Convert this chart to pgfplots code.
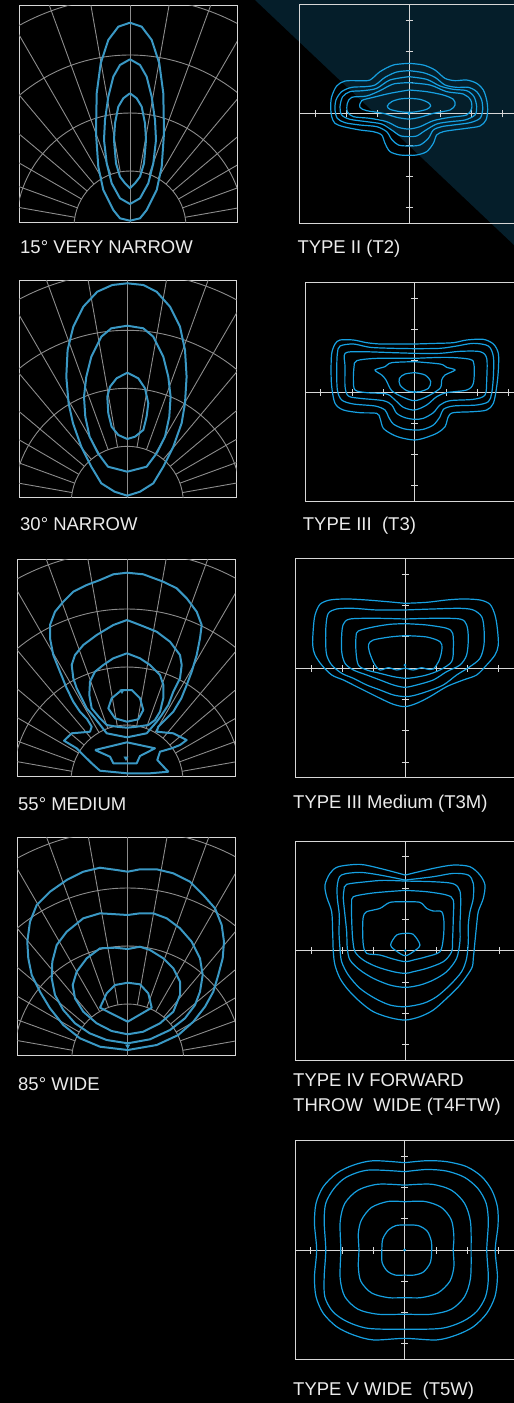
\documentclass[border=0pt]{standalone}
\usepackage{fontspec}
\setmainfont{Liberation Sans}
\usepackage{pgfplots}
\pgfplotsset{compat=1.18}

\definecolor{bandc}{RGB}{5,30,42}
\definecolor{gridc}{RGB}{140,140,140}
\definecolor{framec}{RGB}{215,215,215}
\definecolor{polc}{RGB}{58,152,196}
\definecolor{isoc}{RGB}{22,160,225}
\definecolor{txtc}{RGB}{235,235,235}

\newcommand{\lbl}{\fontsize{18.5bp}{22bp}\selectfont}

\pgfplotsset{
  polar panel/.style={scale only axis, anchor=north west, ticks=none,
    axis line style={framec, line width=1bp}},
  iso panel/.style={scale only axis, anchor=north west, ticks=none,
    xmin=-3.5, xmax=3.5, ymin=-3.5, ymax=3.5, width=219.3bp, height=219.3bp,
    axis line style={framec, line width=1bp}},
  beam/.style={polc, line width=2bp, line join=round, mark=none},
  iso/.style={isoc, line width=1.2bp, smooth, mark=none},
}

% polar grid: arcs about a centre 5 units under the box, spokes every 10 deg
\newcommand{\polargrid}{%
  \draw[gridc, line width=0.9bp] (axis cs:0,0) circle[radius=56bp]
    (axis cs:0,0) circle[radius=114bp] (axis cs:0,0) circle[radius=172bp]
    (axis cs:0,0) circle[radius=230bp];
  \pgfplotsinvokeforeach{10,20,30,40,50,60,70,80,100,110,120,130,140,150,160,170}{%
    \draw[gridc, line width=0.9bp] (axis cs:0,0) ++(##1:56bp) -- ++(##1:300bp);}
  \draw[gridc, line width=0.9bp] (axis cs:0,-10) -- (axis cs:0,260);
}
% cross hair with small ticks
\newcommand{\isogrid}{%
  \draw[framec, line width=1bp] (axis cs:-4,0) -- (axis cs:4,0)
    (axis cs:0,-4) -- (axis cs:0,4);
  \pgfplotsinvokeforeach{-3,-2,-1,1,2,3}{%
    \draw[framec, line width=1bp] ([yshift=-3.5bp]axis cs:##1,0) -- ([yshift=3.5bp]axis cs:##1,0)
      ([xshift=-3.5bp]axis cs:0,##1) -- ([xshift=3.5bp]axis cs:0,##1);}
}

\begin{document}
\begin{tikzpicture}
\path[use as bounding box] (0,0) rectangle (514bp,-1403bp);
\clip (0,0) rectangle (514bp,-1403bp);
\fill[black] (0,0) rectangle (514bp,-1403bp);
\fill[bandc] (255bp,0) -- (514bp,0) -- (514bp,-245bp) -- cycle;

% ---------- 15 deg very narrow
\begin{axis}[polar panel, at={(19bp,-5bp)}, width=218bp, height=217bp,
  xmin=-111, xmax=107, ymin=5, ymax=222]
\polargrid
\addplot[beam] coordinates {(0,204.3)(11.7,200.3)(21.7,187)(29.3,163.7)(33.3,133.7)(34,93.7)(31.7,60.3)(26.7,37)(16.7,17)(10,8.7)(0,6.3)(-10,8.7)(-16.7,17)(-26.7,37)(-31.7,60.3)(-34,93.7)(-33.3,133.7)(-29.3,163.7)(-21.7,187)(-11.7,200.3)(0,204.3)};
\addplot[beam] coordinates {(0,167.7)(10,162)(16.7,150.3)(21.7,130.3)(25,107)(26,87)(23.3,63.7)(18.3,43.7)(10,28.7)(0,23)(-10,28.7)(-18.3,43.7)(-23.3,63.7)(-26,87)(-25,107)(-21.7,130.3)(-16.7,150.3)(-10,162)(0,167.7)};
\addplot[beam] coordinates {(0,133.7)(6.7,128.7)(11.7,120.3)(15,103.7)(16,87)(14,63.7)(10,50.3)(5,43.7)(0,38.7)(-5,43.7)(-10,50.3)(-14,63.7)(-16,87)(-15,103.7)(-11.7,120.3)(-6.7,128.7)(0,133.7)};
\end{axis}

% ---------- 30 deg narrow
\begin{axis}[polar panel, at={(19bp,-280bp)}, width=217.7bp, height=217.3bp,
  xmin=-108.3, xmax=109.4, ymin=5, ymax=222.3]
\polargrid
\addplot[beam] coordinates {(0,219)(16,217.3)(29.3,210.6)(42.7,195.6)(52.7,175.6)(57.7,152.3)(59.3,125.6)(57.7,99)(54.3,79)(46,55.6)(36,35.6)(26,19)(12.7,10.6)(0,6.6)(-12.7,10.6)(-26,19)(-36,35.6)(-46,55.6)(-54.3,79)(-58.7,99)(-61,125.6)(-59.7,152.3)(-54,175.6)(-44,195.6)(-30,210.6)(-15,217.3)(0,219)};
\addplot[beam] coordinates {(0,176.6)(16,174)(26,165.6)(36,145.6)(41,125.6)(43.3,105.6)(42,85.6)(37.7,65.6)(29.3,49)(19.3,35.6)(0,30.6)(-19.3,35.6)(-29.3,49)(-37.7,65.6)(-42,85.6)(-43.3,105.6)(-41,125.6)(-36,145.6)(-26,165.6)(-16,174)(0,176.6)};
\addplot[beam] coordinates {(0,129.6)(11,124)(17.7,114)(21,99)(19.3,85.6)(16,72.3)(7.7,65.6)(0,63.3)(-9,67.3)(-15.7,75.6)(-19,89)(-20,105.6)(-17.3,115.6)(-10.7,124)(0,129.6)};
\end{axis}

% ---------- 55 deg medium
\begin{axis}[polar panel, at={(17.3bp,-559bp)}, width=217.7bp, height=217bp,
  xmin=-109.7, xmax=108, ymin=5, ymax=222]
\polargrid
\addplot[beam] coordinates {(0,208.3)(16.3,206.7)(36.3,199.3)(49.7,192.7)(59.7,182.7)(69.7,169.3)(74.7,156)(73,142.7)(69.7,126)(64.7,109.3)(59.7,96)(54.3,82.7)(46.3,69.3)(36.3,59.3)(31.3,54.3)(29.7,49.3)(46.3,47.7)(59.7,41)(53,36)(44.7,32.7)(33,29.3)(30.3,21)(41.3,9.3)(23,7.7)(0,7.7)(-27,10.3)(-35.3,17.7)(-43.7,26)(-50.3,32.7)(-63,40.3)(-55.3,47.7)(-37,49.3)(-35.3,54.3)(-40,62)(-47,69.3)(-53.7,79.3)(-60.3,92.7)(-67,109.3)(-73.7,126)(-77,142.7)(-77,156)(-72,169.3)(-63.7,179.3)(-53.7,189.3)(-40.3,196)(-27,201)(-13.7,206.7)(0,208.3)};
\addplot[beam] coordinates {(0,161)(13,156)(29.7,149.3)(43,139.3)(53,126)(54.7,116)(53,102.7)(46.3,89.3)(41.3,76)(34.7,66)(29.7,59.3)(19.7,47.7)(0,43.7)(-20.3,47.7)(-32,62.7)(-40.3,72.7)(-45.3,82.7)(-50.3,92.7)(-53.7,102.7)(-55.3,116)(-52,126)(-43.7,136)(-30.3,146)(-13.7,156)(0,161)};
\addplot[beam] coordinates {(0,127.7)(13,122.7)(23,116)(33,106)(36.3,96)(36.3,82.7)(33,69.3)(28,61)(21.3,56)(9.7,54.3)(0,53.3)(-10.3,54.3)(-20.3,56)(-27,62.7)(-35.3,72.7)(-37.7,86)(-37,99.3)(-32,109.3)(-23.7,116)(-13.7,122.7)(0,127.7)};
\addplot[beam] coordinates {(-5.3,91)(4.7,91)(13,82.7)(16.3,71)(11.3,61.7)(0,59.3)(-12,62.7)(-18.7,72.7)(-15.3,82.7)(-5.3,91)};
\addplot[beam] coordinates {(-32,31)(0,38.7)(28,32.7)(13,25)(9.7,17.7)(-13.7,17.7)(-17,24.3)(-32,31)};
\addplot[polc, only marks, mark=triangle*, mark size=2.5bp, mark options={rotate=180}] coordinates {(-1,23)(-5,90)};
\end{axis}

% ---------- 85 deg wide
\begin{axis}[polar panel, at={(17.3bp,-837.7bp)}, width=217.7bp, height=217.3bp,
  xmin=-110.4, xmax=107.3, ymin=5, ymax=222.3]
\polargrid
\addplot[beam] coordinates {(0,188.3)(12.3,190.7)(29,190.7)(45.6,186.7)(62.3,178.3)(75.6,165)(87.3,151.7)(94,135)(96.3,118.3)(95,101.7)(90.6,85)(85.6,68.3)(77.3,53.3)(65.6,38.3)(50.6,25)(29,15)(0,10)(-27.7,13.3)(-47.7,21.7)(-64.4,35)(-77.7,51.7)(-87.7,68.3)(-96,85)(-99.4,101.7)(-100.4,118.3)(-97.7,138.3)(-91,155)(-77.7,168.3)(-61,180)(-44.4,188.3)(-27.7,192.3)(-11,190)(0,188.3)};
\addplot[beam] coordinates {(0,145)(12.3,146.7)(25.6,146.7)(39,141.7)(52.3,131.7)(64,118.3)(72.3,101.7)(75,85)(72.3,68.3)(67.3,55)(57.3,41.7)(42.3,30)(22.3,20.7)(0,16.7)(-21,20)(-38,26.7)(-52.7,36.7)(-64.4,50)(-72.7,65)(-76,81.7)(-75.4,98.3)(-71,115)(-61,128.3)(-44.4,141.7)(-27.7,146.7)(-11,145.7)(0,145)};
\addplot[beam] coordinates {(0,111)(12.3,113.3)(22.3,110)(35.6,101.7)(45.6,91.7)(52.3,78.3)(52.3,65)(45.6,48.3)(32.3,36.7)(15.6,28.3)(0,25.7)(-16,29)(-31,36.7)(-44.4,48.3)(-52.7,61.7)(-55,75)(-51,88.3)(-41,101.7)(-27.7,111.7)(-12.7,112.3)(0,111)};
\addplot[beam] coordinates {(0,77.3)(12.3,75.7)(20.6,66.7)(24,52.3)(0,38.3)(-27.7,52.3)(-21,66.7)(-12.7,75)(0,77.3)};
\addplot[polc, only marks, mark=triangle*, mark size=2.5bp, mark options={rotate=180}] coordinates {(0,14)};
\end{axis}

% ---------- Type II
\begin{axis}[iso panel, at={(299.35bp,-4.35bp)}]
\isogrid
\addplot[iso] coordinates {(0,1.617)(0.457,1.564)(0.830,1.404)(1.149,1.138)(1.468,1.064)(1.840,1.085)(2.160,0.979)(2.372,0.766)(2.479,0.447)(2.511,0.128)(2.457,-0.191)(2.266,-0.383)(1.840,-0.457)(1.415,-0.511)(1.096,-0.564)(0.883,-0.670)(0.777,-0.936)(0.564,-1.202)(0.245,-1.309)(0,-1.319)(-0.287,-1.309)(-0.606,-1.202)(-0.766,-0.936)(-0.872,-0.670)(-1.138,-0.564)(-1.564,-0.511)(-2.096,-0.404)(-2.362,-0.298)(-2.468,-0.085)(-2.500,0.234)(-2.468,0.553)(-2.309,0.894)(-2.043,1.053)(-1.564,1.064)(-1.245,1.085)(-0.926,1.351)(-0.500,1.564)(0,1.617)};
\addplot[iso] coordinates {(0,1.383)(0.457,1.319)(0.830,1.170)(1.149,0.926)(1.521,0.851)(1.894,0.851)(2.160,0.713)(2.319,0.447)(2.351,0.128)(2.266,-0.138)(1.947,-0.277)(1.415,-0.351)(1.043,-0.404)(0.777,-0.511)(0.617,-0.777)(0.351,-0.989)(0,-1.021)(-0.340,-0.989)(-0.553,-0.809)(-0.713,-0.564)(-1.032,-0.404)(-1.564,-0.351)(-2.043,-0.277)(-2.287,-0.138)(-2.362,0.128)(-2.330,0.447)(-2.149,0.713)(-1.830,0.851)(-1.404,0.872)(-1.085,0.926)(-0.766,1.170)(-0.394,1.340)(0,1.383)};
\addplot[iso] coordinates {(0,1.191)(0.564,1.106)(0.989,0.894)(1.415,0.787)(1.840,0.745)(2.074,0.553)(2.160,0.234)(2.106,-0.032)(1.787,-0.191)(1.309,-0.245)(0.883,-0.319)(0.511,-0.532)(0.245,-0.702)(0,-0.723)(-0.287,-0.691)(-0.553,-0.511)(-0.872,-0.319)(-1.351,-0.245)(-1.883,-0.170)(-2.149,-0.032)(-2.202,0.234)(-2.117,0.553)(-1.883,0.713)(-1.457,0.745)(-1.032,0.819)(-0.606,1.085)(0,1.191)};
\addplot[iso] coordinates {(0,1.0)(0.670,0.926)(1.202,0.713)(1.734,0.638)(1.968,0.447)(2.0,0.181)(1.840,-0.032)(1.309,-0.106)(0.777,-0.213)(0.351,-0.404)(0,-0.479)(-0.340,-0.426)(-0.713,-0.245)(-1.245,-0.138)(-1.777,-0.085)(-1.968,0.074)(-1.968,0.340)(-1.830,0.532)(-1.351,0.574)(-0.926,0.745)(-0.500,0.957)(0,1.0)};
\addplot[iso] coordinates {(0,0.766)(0.564,0.713)(1.096,0.606)(1.415,0.468)(1.468,0.287)(1.309,0.128)(0.777,0.021)(0.351,-0.106)(0,-0.160)(-0.394,-0.106)(-0.819,0.021)(-1.351,0.106)(-1.564,0.213)(-1.511,0.426)(-1.138,0.532)(-0.606,0.660)(0,0.766)};
\addplot[iso] coordinates {(0,0.5)(0.351,0.468)(0.617,0.362)(0.691,0.255)(0.564,0.149)(0.245,0.074)(0,0.053)(-0.287,0.074)(-0.606,0.149)(-0.691,0.255)(-0.553,0.394)(-0.287,0.479)(0,0.5)};
\addplot[isoc, only marks, mark=*, mark size=1.2bp] coordinates {(0,0)};
\end{axis}

% ---------- Type III
\begin{axis}[iso panel, at={(305.05bp,-282.35bp)}]
\isogrid
\addplot[iso] coordinates {(0,1.532)(0.702,1.553)(1.234,1.574)(1.660,1.660)(2.191,1.681)(2.511,1.532)(2.670,1.234)(2.670,0.702)(2.617,0.170)(2.511,-0.362)(2.298,-0.574)(1.872,-0.628)(1.234,-0.660)(1.074,-0.787)(0.968,-1.106)(0.702,-1.319)(0.277,-1.479)(0,-1.532)(-0.362,-1.479)(-0.681,-1.372)(-1.0,-1.160)(-1.106,-0.840)(-1.213,-0.681)(-1.745,-0.660)(-2.277,-0.574)(-2.543,-0.362)(-2.649,0.170)(-2.670,0.702)(-2.649,1.234)(-2.543,1.532)(-2.383,1.660)(-1.957,1.660)(-1.532,1.574)(-1.106,1.532)(-0.681,1.532)(0,1.532)};
\addplot[iso] coordinates {(0,1.383)(0.809,1.394)(1.340,1.468)(1.872,1.553)(2.351,1.468)(2.511,1.128)(2.511,0.489)(2.457,-0.043)(2.351,-0.309)(1.979,-0.415)(1.234,-0.447)(0.915,-0.553)(0.809,-0.787)(0.596,-1.053)(0.277,-1.191)(0,-1.213)(-0.362,-1.170)(-0.681,-1.021)(-0.840,-0.787)(-0.947,-0.574)(-1.266,-0.447)(-1.957,-0.383)(-2.330,-0.255)(-2.468,0.064)(-2.489,0.702)(-2.468,1.234)(-2.383,1.468)(-1.957,1.532)(-1.426,1.426)(-0.681,1.394)(0,1.383)};
\addplot[iso] coordinates {(0,1.234)(0.809,1.234)(1.447,1.298)(2.085,1.287)(2.298,1.074)(2.298,0.383)(2.245,-0.096)(1.872,-0.234)(1.128,-0.277)(0.809,-0.415)(0.596,-0.660)(0.277,-0.840)(0,-0.872)(-0.309,-0.819)(-0.574,-0.681)(-0.734,-0.415)(-1.0,-0.277)(-1.745,-0.202)(-2.117,-0.128)(-2.223,0.170)(-2.223,0.809)(-2.223,1.234)(-1.745,1.287)(-0.681,1.255)(0,1.234)};
\addplot[iso] coordinates {(0,1.074)(1.021,1.106)(1.766,1.043)(1.894,0.862)(1.872,0.277)(1.660,0.064)(1.021,-0.021)(0.702,-0.149)(0.383,-0.415)(0,-0.574)(-0.362,-0.489)(-0.628,-0.255)(-0.894,-0.064)(-1.532,-0.021)(-1.904,0.064)(-1.957,0.383)(-1.936,0.809)(-1.851,1.0)(-1.213,1.074)(0,1.074)};
\addplot[iso] coordinates {(0,0.968)(0.809,0.894)(1.021,0.787)(1.287,0.702)(0.968,0.543)(0.862,0.383)(0.809,0.117)(0.383,-0.149)(0,-0.277)(-0.362,-0.170)(-0.734,0.043)(-0.915,0.383)(-1.053,0.543)(-1.266,0.702)(-0.947,0.809)(-0.734,0.936)(0,0.968)};
\addplot[iso] coordinates {(0,0.617)(0.330,0.543)(0.511,0.330)(0.436,0.117)(0.170,0.011)(0,0)(-0.255,0.043)(-0.468,0.223)(-0.489,0.436)(-0.309,0.574)(0,0.617)};
\addplot[isoc, only marks, mark=*, mark size=1.2bp] coordinates {(0,0)};
\end{axis}

% ---------- Type III medium
\begin{axis}[iso panel, at={(295.35bp,-558.65bp)}]
\isogrid
\addplot[iso] coordinates {(0,2.074)(0.691,2.106)(1.330,2.181)(1.862,2.213)(2.394,2.181)(2.713,2.043)(2.872,1.702)(2.947,1.277)(2.979,0.745)(2.872,0.426)(2.606,0.106)(2.287,-0.213)(1.862,-0.372)(1.330,-0.585)(0.798,-0.904)(0.372,-1.117)(0,-1.223)(-0.372,-1.149)(-0.798,-0.957)(-1.223,-0.745)(-1.649,-0.532)(-1.968,-0.372)(-2.340,-0.213)(-2.660,0.106)(-2.872,0.426)(-2.947,0.745)(-2.926,1.277)(-2.872,1.702)(-2.713,2.043)(-2.394,2.181)(-1.862,2.213)(-1.223,2.181)(-0.585,2.128)(0,2.074)};
\addplot[iso] coordinates {(0,1.862)(0.904,1.894)(1.755,1.915)(2.181,1.862)(2.447,1.649)(2.521,1.277)(2.521,0.745)(2.394,0.319)(2.074,0.053)(1.649,-0.213)(1.223,-0.532)(0.691,-0.745)(0.266,-0.872)(0,-0.904)(-0.372,-0.851)(-0.798,-0.691)(-1.223,-0.532)(-1.649,-0.319)(-2.021,-0.160)(-2.340,0.106)(-2.500,0.426)(-2.532,0.851)(-2.521,1.383)(-2.447,1.755)(-2.181,1.894)(-1.649,1.915)(-0.904,1.862)(0,1.862)};
\addplot[iso] coordinates {(0,1.574)(0.904,1.596)(1.755,1.574)(1.968,1.383)(2.021,0.957)(1.968,0.426)(1.755,0.106)(1.330,-0.106)(0.904,-0.372)(0.372,-0.532)(0,-0.606)(-0.372,-0.532)(-0.798,-0.372)(-1.223,-0.213)(-1.649,-0.053)(-1.915,0.160)(-2.021,0.532)(-2.021,1.064)(-1.968,1.404)(-1.755,1.574)(-0.904,1.596)(0,1.574)};
\addplot[iso] coordinates {(0,1.426)(0.691,1.383)(1.330,1.277)(1.521,1.117)(1.543,0.638)(1.489,0.213)(1.117,-0.053)(0.691,-0.213)(0.266,-0.298)(0,-0.319)(-0.372,-0.266)(-0.798,-0.160)(-1.223,-0.053)(-1.489,0.106)(-1.564,0.532)(-1.564,1.011)(-1.489,1.191)(-1.011,1.319)(-0.479,1.404)(0,1.426)};
\addplot[iso] coordinates {(0,1.043)(0.691,1.0)(1.117,0.851)(1.181,0.638)(1.096,0.266)(0.904,-0.021)(0.691,-0.021)(0.532,0.021)(0.266,-0.053)(0,0)(-0.266,-0.053)(-0.532,0.021)(-0.798,-0.053)(-0.989,0.160)(-1.138,0.532)(-1.160,0.766)(-1.011,0.904)(-0.479,1.0)(0,1.043)};
\addplot[isoc, only marks, mark=*, mark size=1.2bp] coordinates {(0,0.1)};
\end{axis}

% ---------- Type IV forward throw wide
\begin{axis}[iso panel, at={(295.65bp,-841.05bp)}]
\isogrid
\addplot[iso] coordinates {(0,2.415)(0.894,2.628)(1.532,2.734)(2.064,2.681)(2.383,2.415)(2.543,2.096)(2.489,1.670)(2.330,1.245)(2.277,0.819)(2.223,0.287)(2.170,-0.245)(2.117,-0.564)(1.745,-1.096)(1.319,-1.521)(0.894,-1.894)(0.468,-2.106)(0,-2.213)(-0.489,-2.138)(-1.021,-1.947)(-1.447,-1.628)(-1.819,-1.255)(-2.085,-0.883)(-2.245,-0.457)(-2.298,-0.032)(-2.319,0.606)(-2.351,1.245)(-2.511,1.723)(-2.564,2.096)(-2.404,2.468)(-2.138,2.681)(-1.447,2.755)(-0.809,2.628)(0,2.415)};
\addplot[iso] coordinates {(0,2.255)(0.894,2.362)(1.532,2.468)(2.011,2.415)(2.170,2.149)(2.170,1.670)(2.064,1.245)(2.011,0.819)(2.011,0.287)(1.957,-0.245)(1.798,-0.670)(1.426,-1.096)(1.0,-1.468)(0.574,-1.681)(0,-1.787)(-0.489,-1.734)(-0.968,-1.521)(-1.447,-1.202)(-1.819,-0.777)(-2.032,-0.351)(-2.085,0.074)(-2.117,0.606)(-2.106,1.138)(-2.170,1.670)(-2.170,2.096)(-2.043,2.415)(-1.457,2.500)(-0.809,2.415)(0,2.255)};
\addplot[iso] coordinates {(0,2.223)(0.894,2.202)(1.532,2.138)(1.745,1.904)(1.766,1.372)(1.745,0.840)(1.745,0.309)(1.638,-0.245)(1.319,-0.670)(0.894,-0.936)(0.468,-1.096)(0,-1.170)(-0.489,-1.096)(-1.021,-0.883)(-1.447,-0.617)(-1.766,-0.298)(-1.851,0.074)(-1.872,0.606)(-1.926,1.138)(-1.979,1.670)(-1.957,1.936)(-1.872,2.117)(-1.234,2.202)(-0.702,2.245)(0,2.223)};
\addplot[iso] coordinates {(0,1.926)(0.681,1.883)(1.319,1.777)(1.532,1.617)(1.532,1.032)(1.511,0.394)(1.479,-0.032)(1.213,-0.351)(0.681,-0.564)(0.255,-0.670)(0,-0.723)(-0.383,-0.670)(-0.915,-0.511)(-1.340,-0.298)(-1.606,-0.032)(-1.681,0.394)(-1.713,1.032)(-1.713,1.511)(-1.660,1.723)(-1.128,1.830)(-0.596,1.883)(0,1.926)};
\addplot[iso] coordinates {(0,1.564)(0.468,1.543)(0.681,1.351)(0.894,1.266)(1.160,1.245)(1.234,0.926)(1.213,0.394)(1.106,-0.032)(0.681,-0.191)(0.255,-0.298)(0,-0.351)(-0.383,-0.266)(-0.809,-0.138)(-1.234,-0.085)(-1.340,0.181)(-1.362,0.713)(-1.340,1.085)(-1.234,1.245)(-0.809,1.351)(-0.489,1.543)(0,1.564)};
\addplot[iso] coordinates {(0,0.553)(0.255,0.521)(0.468,0.181)(0.255,-0.032)(0,-0.160)(-0.255,-0.032)(-0.468,0.181)(-0.277,0.500)(0,0.553)};
\addplot[isoc, only marks, mark=*, mark size=1.2bp] coordinates {(0,0)};
\end{axis}

% ---------- Type V wide
\begin{axis}[iso panel, at={(295.05bp,-1140.35bp)}]
\isogrid
\addplot[iso] coordinates {(0,2.787)(0.70,2.85)(1.34,2.82)(1.98,2.66)(2.46,2.34)(2.78,1.91)(2.96,1.38)(2.98,0.80)(2.89,0)(2.96,-0.85)(2.88,-1.49)(2.62,-2.02)(2.19,-2.45)(1.66,-2.71)(1.02,-2.87)(0,-2.82)(-1.0,-2.87)(-1.64,-2.71)(-2.17,-2.45)(-2.60,-2.02)(-2.83,-1.49)(-2.88,-0.85)(-2.81,0)(-2.88,0.85)(-2.83,1.49)(-2.60,2.02)(-2.17,2.45)(-1.64,2.71)(-1.0,2.85)(0,2.787)};
\addplot[iso] coordinates {(0,2.50)(0.70,2.57)(1.34,2.52)(1.91,2.32)(2.34,1.96)(2.60,1.49)(2.67,0.90)(2.62,0)(2.67,-0.90)(2.58,-1.49)(2.30,-1.96)(1.85,-2.28)(1.17,-2.50)(0,-2.53)(-1.17,-2.50)(-1.85,-2.28)(-2.30,-1.96)(-2.55,-1.49)(-2.57,-0.85)(-2.52,0)(-2.57,0.90)(-2.52,1.49)(-2.26,1.96)(-1.87,2.32)(-1.17,2.55)(0,2.50)};
\addplot[iso] coordinates {(0,2.07)(0.85,2.10)(1.49,1.91)(1.91,1.49)(2.10,0.90)(2.12,0)(2.10,-0.90)(1.91,-1.49)(1.49,-1.89)(0.85,-2.05)(0,-2.05)(-0.85,-2.05)(-1.49,-1.89)(-1.91,-1.49)(-2.06,-0.90)(-2.04,0)(-2.06,0.90)(-1.91,1.49)(-1.49,1.91)(-0.85,2.10)(0,2.07)};
\addplot[iso] coordinates {(0,1.54)(0.64,1.55)(1.17,1.36)(1.49,0.96)(1.57,0.43)(1.55,0)(1.57,-0.53)(1.44,-1.0)(1.06,-1.37)(0.53,-1.52)(0,-1.52)(-0.53,-1.52)(-1.06,-1.37)(-1.40,-1.0)(-1.48,-0.53)(-1.46,0)(-1.48,0.53)(-1.38,0.96)(-1.06,1.36)(-0.53,1.55)(0,1.54)};
\addplot[iso] coordinates {(0,0.80)(0.43,0.78)(0.72,0.60)(0.85,0.28)(0.86,0)(0.82,-0.40)(0.60,-0.70)(0.30,-0.80)(0,-0.80)(-0.30,-0.80)(-0.55,-0.68)(-0.72,-0.40)(-0.73,0)(-0.70,0.35)(-0.52,0.64)(-0.28,0.78)(0,0.80)};
\addplot[isoc, only marks, mark=*, mark size=1.2bp] coordinates {(0,0)};
\end{axis}

% ---------- captions
\node[anchor=base west, txtc, font=\lbl, inner sep=0] at (20bp,-253bp) {15° VERY NARROW};
\node[anchor=base west, txtc, font=\lbl, inner sep=0] at (297.3bp,-253.3bp) {TYPE II (T2)};
\node[anchor=base west, txtc, font=\lbl, inner sep=0] at (20bp,-530bp) {30° NARROW};
\node[anchor=base west, txtc, font=\lbl, inner sep=0] at (302.7bp,-530bp) {TYPE III\ \ (T3)};
\node[anchor=base west, txtc, font=\lbl, inner sep=0] at (18bp,-810bp) {55° MEDIUM};
\node[anchor=base west, txtc, font=\lbl, inner sep=0] at (293bp,-808.3bp) {TYPE III Medium (T3M)};
\node[anchor=base west, txtc, font=\lbl, inner sep=0] at (18bp,-1090.7bp) {85° WIDE};
\node[anchor=base west, txtc, font=\lbl, inner sep=0] at (293bp,-1086.7bp) {TYPE IV FORWARD};
\node[anchor=base west, txtc, font=\lbl, inner sep=0] at (293bp,-1111bp) {THROW\ \ WIDE (T4FTW)};
\node[anchor=base west, txtc, font=\lbl, inner sep=0] at (293bp,-1395.3bp) {TYPE V WIDE\ \ (T5W)};
\end{tikzpicture}
\end{document}
